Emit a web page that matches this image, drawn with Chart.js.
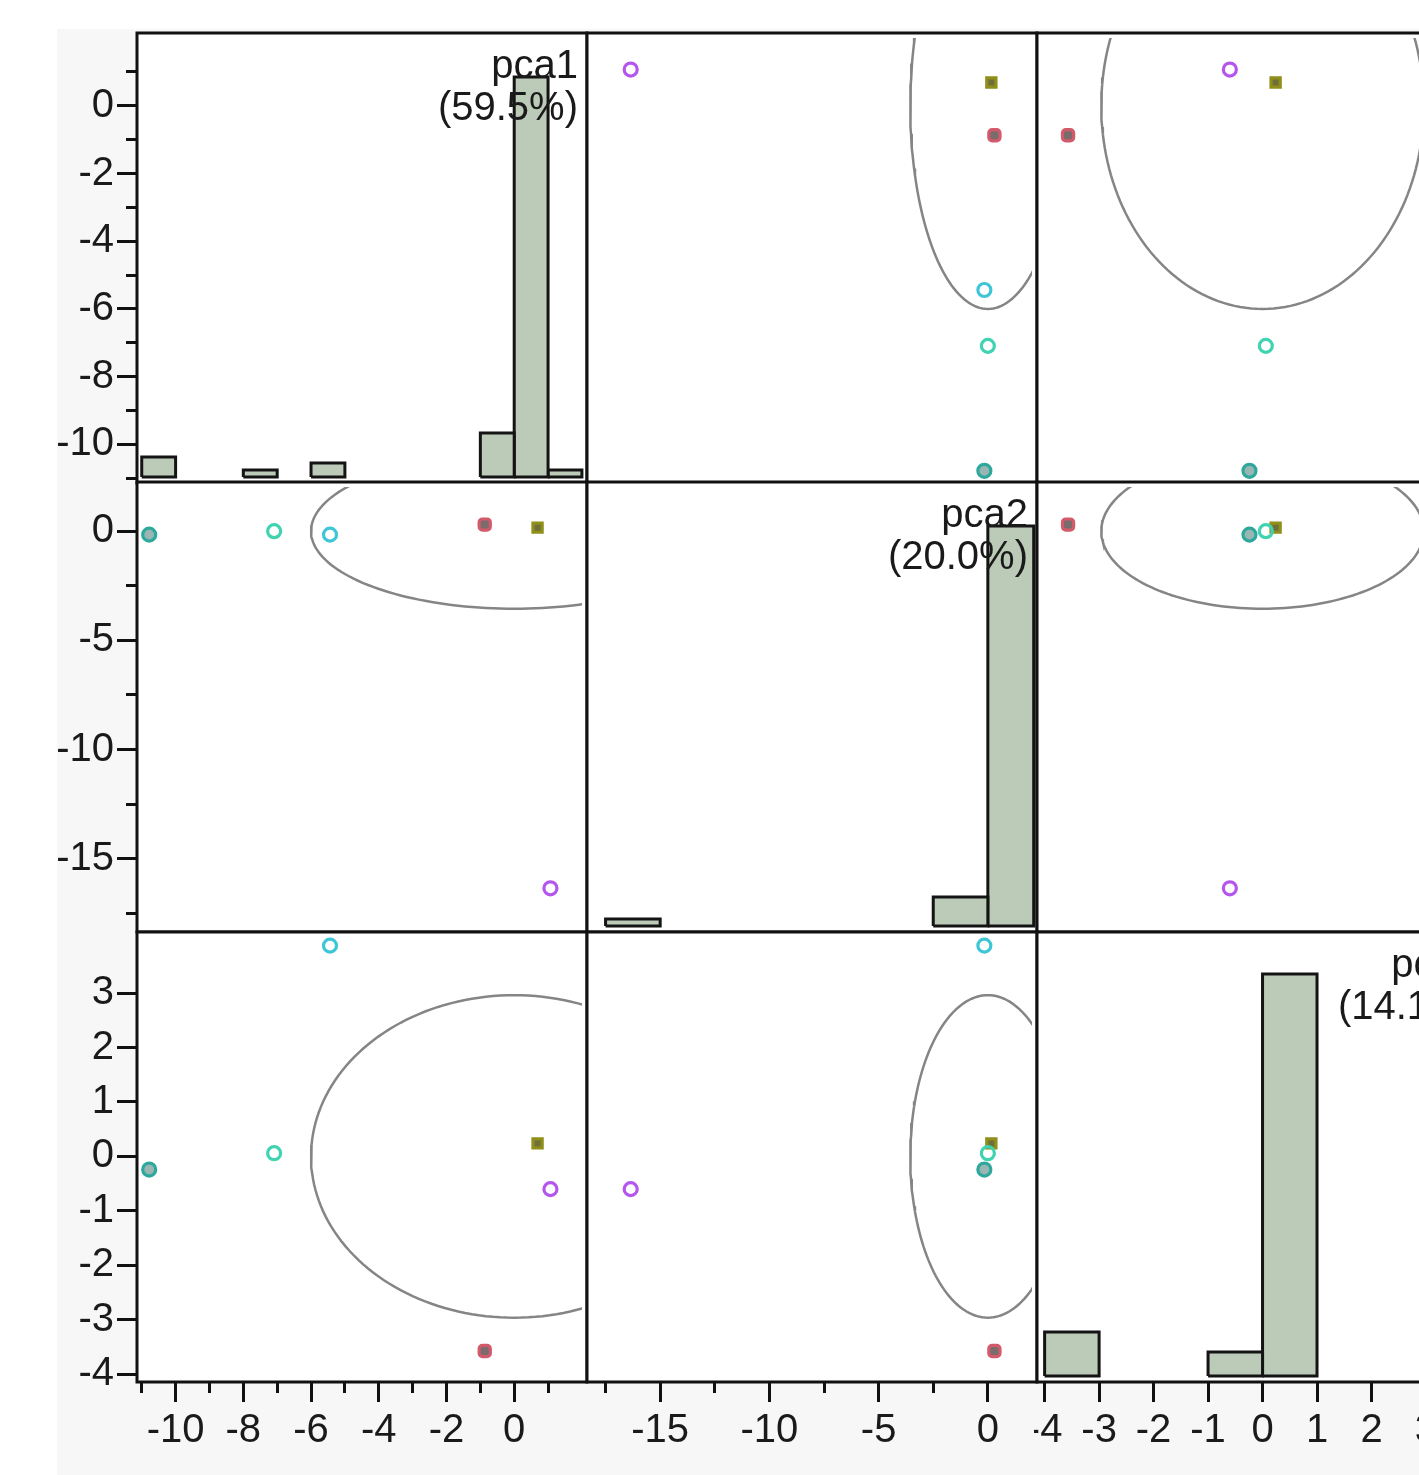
<!DOCTYPE html>
<html>
<head>
<meta charset="utf-8">
<script src="https://cdn.jsdelivr.net/npm/chart.js@4.4.1/dist/chart.umd.min.js"></script>
<style>
  html, body { margin: 0; padding: 0; background: #fff; overflow: hidden; width: 1419px; height: 1475px; }
  #bg { position: absolute; left: 57px; top: 29px; width: 1362px; height: 1446px; background: #f7f7f7; }
  canvas { position: absolute; }
</style>
</head>
<body>
<div id="bg"></div>
<script>
// variable names and explained variance
const varNames = ['pca1', 'pca2', 'pca3'];
const varShares = ['(59.5%)', '(20.0%)', '(14.1%)'];

// scores of the six samples
const pca1 = [1.07, 0.69, -0.87, -5.44, -7.09, -10.78];
const pca2 = [-16.35, 0.16, 0.30, -0.16, 0.00, -0.16];
const pca3 = [-0.60, 0.24, -3.57, 3.87, 0.06, -0.24];

// axis ranges and ticks
const axisMin = [-11.14, -18.35, -4.14];
const axisMax = [2.15, 2.25, 4.12];
const majorTicks = [[-10, -8, -6, -4, -2, 0], [-15, -10, -5, 0], [-4, -3, -2, -1, 0, 1, 2, 3]];
const minorTicks = [[-11, -9, -7, -5, -3, -1, 1], [-17.5, -12.5, -7.5, -2.5], []];

// histograms (bin edges and relative heights)
const pca1BinLo = [-11, -8, -6, -1, 0, 1];
const pca1BinHi = [-10, -7, -5, 0, 1, 2];
const pca1Heights = [5, 1.75, 3.5, 11, 100, 1.75];
const pca2BinLo = [-17.5, -2.5, 0];
const pca2BinHi = [-15, 0, 2.1];
const pca2Heights = [1.75, 7.25, 100];
const pca3BinLo = [-4, -1, 0];
const pca3BinHi = [-3, 0, 1];
const pca3Heights = [11, 6, 100.5];

// density ellipse (centre 0, semi axes per variable)
const ellipseRadius = [6.0, 3.55, 2.96];

// marker styles per sample
const markStyle = ['circle', 'rect', 'rectRounded', 'circle', 'circle', 'circle'];
const markBorder = ['#b456ee', '#8f8f1a', '#d25a6a', '#3ec6d6', '#3fd3b1', '#2ea89c'];
const markFill = ['rgba(255,255,255,0)', '#6f6f3a', '#7a6c6c', 'rgba(255,255,255,0)', 'rgba(255,255,255,0)', 'rgba(70,120,118,0.55)'];

const scores = [pca1, pca2, pca3];
const bins = [[pca1BinLo, pca1BinHi, pca1Heights], [pca2BinLo, pca2BinHi, pca2Heights], [pca3BinLo, pca3BinHi, pca3Heights]];

Chart.defaults.font.family = '"Liberation Sans", Arial, sans-serif';
Chart.defaults.font.size = 40;
Chart.defaults.color = '#1a1a1a';

const colLeft = [137, 587, 1037];
const rowTop = [33, 482, 932];
const SIZE = 450;

const panelPlugin = {
  id: 'panel',
  beforeDraw(chart) {
    const a = chart.chartArea, ctx = chart.ctx;
    ctx.save();
    ctx.fillStyle = '#ffffff';
    ctx.fillRect(a.left, a.top, a.right - a.left, a.bottom - a.top);
    ctx.restore();
  },
  afterDraw(chart) {
    const a = chart.chartArea, ctx = chart.ctx;
    ctx.save();
    ctx.strokeStyle = '#111';
    ctx.lineWidth = 3;
    ctx.strokeRect(a.left, a.top, a.right - a.left, a.bottom - a.top);
    ctx.restore();
  }
};

function diagLabel(i) {
  return {
    id: 'diagLabel' + i,
    afterDatasetsDraw(chart) {
      const a = chart.chartArea, ctx = chart.ctx;
      ctx.save();
      ctx.font = '40px "Liberation Sans", Arial, sans-serif';
      ctx.fillStyle = '#1a1a1a';
      ctx.textAlign = 'right';
      ctx.textBaseline = 'alphabetic';
      ctx.fillText(varNames[i], a.right - 9, a.top + 45);
      ctx.fillText(varShares[i], a.right - 9, a.top + 87);
      ctx.restore();
    }
  };
}

function axisOpts(i, show, major, horizontal) {
  return {
    type: 'linear',
    min: axisMin[i],
    max: axisMax[i],
    display: show,
    position: horizontal ? 'bottom' : 'left',
    weight: major ? 1 : 0,
    afterBuildTicks: s => { s.ticks = (major ? majorTicks[i] : minorTicks[i]).map(v => ({ value: v })); },
    afterFit: s => {
      s.paddingTop = 0; s.paddingBottom = 0; s.paddingLeft = 0; s.paddingRight = 0;
      if (!show) { s.width = horizontal ? s.width : 0; s.height = horizontal ? 0 : s.height; return; }
      if (horizontal) s.height = major ? 93 : 0;
      else s.width = major ? 80 : 0;
    },
    grid: { drawOnChartArea: false, drawTicks: true, tickLength: major ? 20 : 11, tickWidth: 3, tickColor: '#111' },
    border: { display: false },
    ticks: { display: major, padding: horizontal ? 5 : 3, autoSkip: false, maxRotation: 0, color: '#1a1a1a' }
  };
}

function ellipseData(xi, yi) {
  const pts = [];
  for (let k = 0; k <= 180; k++) {
    const t = k / 180 * Math.PI * 2;
    pts.push({ x: ellipseRadius[xi] * Math.cos(t), y: ellipseRadius[yi] * Math.sin(t) });
  }
  return pts;
}

function makePanel(r, c) {
  const padL = c === 0 ? 80 : 3;
  const padB = r === 2 ? 93 : 3;
  const cv = document.createElement('canvas');
  const w = SIZE + padL + 3, h = SIZE + 3 + padB;
  cv.width = w; cv.height = h;
  cv.style.left = (colLeft[c] - padL) + 'px';
  cv.style.top = (rowTop[r] - 3) + 'px';
  cv.style.width = w + 'px'; cv.style.height = h + 'px';
  document.body.appendChild(cv);

  const datasets = [];
  const plugins = [panelPlugin];
  const scales = {
    x: axisOpts(c, r === 2, true, true),
    x2: axisOpts(c, r === 2 && minorTicks[c].length > 0, false, true),
    y: axisOpts(r, c === 0, true, false),
    y2: axisOpts(r, c === 0 && minorTicks[r].length > 0, false, false)
  };

  if (r === c) {
    const [lo, hi, hts] = bins[c];
    lo.forEach((l, k) => {
      datasets.push({
        data: [{ x: l, y: 0 }, { x: l, y: hts[k] }, { x: hi[k], y: hts[k] }, { x: hi[k], y: 0 }, { x: l, y: 0 }],
        yAxisID: 'yc',
        showLine: true,
        fill: 'shape',
        backgroundColor: '#bccab8',
        borderColor: '#141414',
        borderWidth: 3,
        pointRadius: 0,
        tension: 0
      });
    });
    scales.yc = { type: 'linear', display: false, min: -1.5, max: 111 };
    plugins.push(diagLabel(c));
  } else {
    const xs = scores[c], ys = scores[r];
    datasets.push({
      data: xs.map((v, k) => ({ x: v, y: ys[k] })),
      pointStyle: markStyle,
      pointBorderColor: markBorder,
      pointBackgroundColor: markFill,
      pointRadius: 6.5,
      pointBorderWidth: 3.2,
      showLine: false,
      order: 0
    });
    datasets.push({
      data: ellipseData(c, r),
      showLine: true,
      borderColor: '#858585',
      borderWidth: 2.5,
      pointRadius: 0,
      fill: false,
      tension: 0,
      clip: -5,
      order: 1
    });
  }

  new Chart(cv, {
    type: 'scatter',
    data: { datasets },
    options: {
      responsive: false,
      animation: false,
      devicePixelRatio: 1,
      events: [],
      layout: { autoPadding: false, padding: { left: c === 0 ? 0 : 3, top: 3, right: 3, bottom: r === 2 ? 0 : 3 } },
      plugins: { legend: { display: false }, tooltip: { enabled: false } },
      scales
    },
    plugins
  });
}

for (let r = 0; r < 3; r++) {
  for (let c = 0; c < 3; c++) makePanel(r, c);
}
</script>
</body>
</html>
